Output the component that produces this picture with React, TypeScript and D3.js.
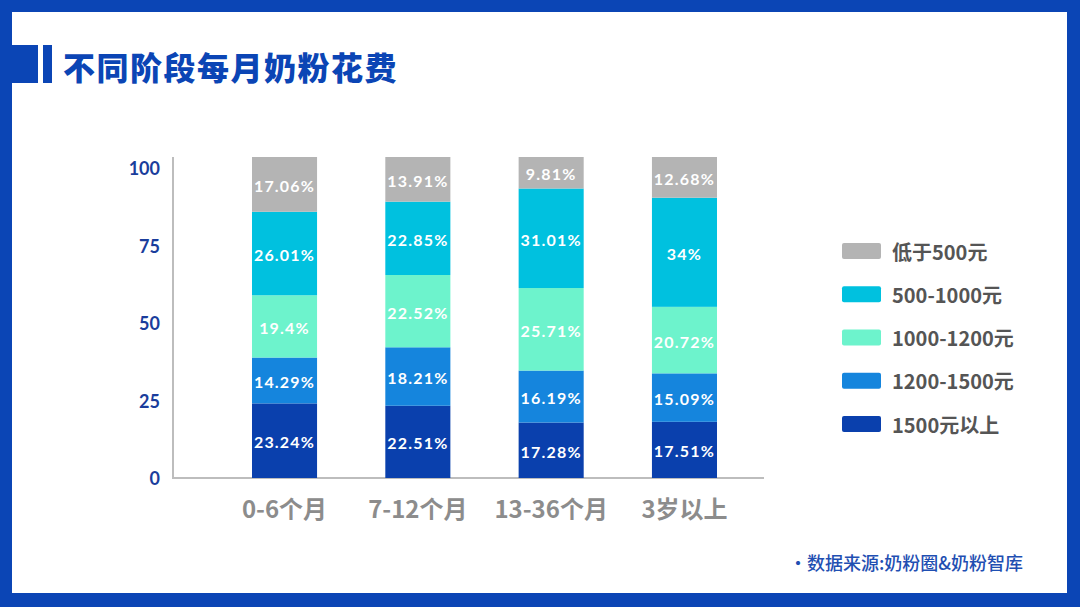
import React from "react";
import * as d3 from "d3";

const categories = ["0-6个月", "7-12个月", "13-36个月", "3岁以上"];
const seriesNames = ["1500元以上", "1200-1500元", "1000-1200元", "500-1000元", "低于500元"];
const s1500up = [23.24, 22.51, 17.28, 17.51];
const s1200_1500 = [14.29, 18.21, 16.19, 15.09];
const s1000_1200 = [19.4, 22.52, 25.71, 20.72];
const s500_1000 = [26.01, 22.85, 31.01, 34];
const sBelow500 = [17.06, 13.91, 9.81, 12.68];
const yTicks = [0, 25, 50, 75, 100];
const legendOrder = ["低于500元", "500-1000元", "1000-1200元", "1200-1500元", "1500元以上"];

const colors: Record<string, string> = {
  "1500元以上": "#0a40ad",
  "1200-1500元": "#1585dd",
  "1000-1200元": "#6df3cc",
  "500-1000元": "#00c1df",
  "低于500元": "#b4b4b4",
};

const W = 1080;
const H = 607;
const BLUE = "#0b45b5";

export default function App() {
  const seriesValues = [s1500up, s1200_1500, s1000_1200, s500_1000, sBelow500];
  const table = categories.map((c, i) => {
    const row: any = { cat: c };
    seriesNames.forEach((s, j) => (row[s] = seriesValues[j][i]));
    return row;
  });
  const stack = d3.stack<any>().keys(seriesNames)(table);

  const x = d3
    .scaleBand<string>()
    .domain(categories)
    .range([212, 757])
    .paddingInner(0.512)
    .paddingOuter(0.3);
  const y = d3.scaleLinear().domain([0, 100]).range([478, 157]);
  const yLab = d3.scaleLinear().domain([0, 100]).range([478, 168]);
  const legendY = d3
    .scalePoint<string>()
    .domain(legendOrder)
    .range([251, 424]);

  return (
    <svg
      width={W}
      height={H}
      style={{ position: "absolute", left: 0, top: 0, display: "block" }}
      fontFamily="'Noto Sans CJK SC', 'Noto Sans', sans-serif"
    >
      <rect x={0} y={0} width={W} height={H} fill={BLUE} />
      <rect x={12} y={12} width={1055} height={581} fill="#ffffff" />

      {/* title accent */}
      <rect x={12} y={45} width={26} height={38} fill={BLUE} />
      <rect x={43} y={45} width={9} height={38} fill={BLUE} />
      <text
        x={63}
        y={66}
        dominantBaseline="central"
        fontSize={32}
        fontWeight={900}
        fill={BLUE}
        letterSpacing={1.5}
      >
        不同阶段每月奶粉花费
      </text>

      {/* axes */}
      <line x1={173} x2={173} y1={157} y2={478} stroke="#bdbdbd" strokeWidth={2} />
      <line x1={172} x2={764} y1={478} y2={478} stroke="#bdbdbd" strokeWidth={2} />

      {yTicks.map((t) => (
        <text
          key={t}
          x={160}
          y={yLab(t)}
          textAnchor="end"
          dominantBaseline="central"
          fontFamily="Lato, 'Noto Sans', sans-serif"
          fontWeight={700}
          fontSize={18}
          fill="#1a3d9c"
        >
          {t}
        </text>
      ))}

      {stack.map((layer) => (
        <g key={layer.key} fill={colors[layer.key]}>
          {layer.map((d, i) => (
            <rect
              key={i}
              x={x(categories[i])}
              width={x.bandwidth()}
              y={y(d[1])}
              height={y(d[0]) - y(d[1])}
            />
          ))}
        </g>
      ))}

      {stack.map((layer) => (
        <g key={"l" + layer.key}>
          {layer.map((d, i) => (
            <text
              key={i}
              x={(x(categories[i]) as number) + x.bandwidth() / 2}
              y={(y(d[0]) + y(d[1])) / 2 + 1}
              textAnchor="middle"
              dominantBaseline="central"
              fontFamily="Lato, 'Noto Sans', sans-serif"
              fontWeight={700}
              fontSize={16}
              letterSpacing={1.2}
              fill="#ffffff"
            >
              {`${d.data[layer.key]}%`}
            </text>
          ))}
        </g>
      ))}

      {categories.map((c) => (
        <text
          key={c}
          x={(x(c) as number) + x.bandwidth() / 2}
          y={507}
          textAnchor="middle"
          dominantBaseline="central"
          fontSize={24}
          fontWeight={700}
          fill="#8c8c8c"
        >
          {c}
        </text>
      ))}

      {legendOrder.map((s) => (
        <g key={s} transform={`translate(842, ${legendY(s)})`}>
          <rect x={0} y={-8} width={39} height={16} rx={2} fill={colors[s]} />
          <text
            x={50}
            y={0}
            dominantBaseline="central"
            fontSize={20}
            fontWeight={700}
            fill="#555555"
          >
            {s}
          </text>
        </g>
      ))}

      <text
        x={789}
        y={562}
        dominantBaseline="central"
        fontSize={18}
        fontWeight={500}
        fill="#1f4fb2"
      >
        ·数据来源:奶粉圈&amp;奶粉智库
      </text>
    </svg>
  );
}
